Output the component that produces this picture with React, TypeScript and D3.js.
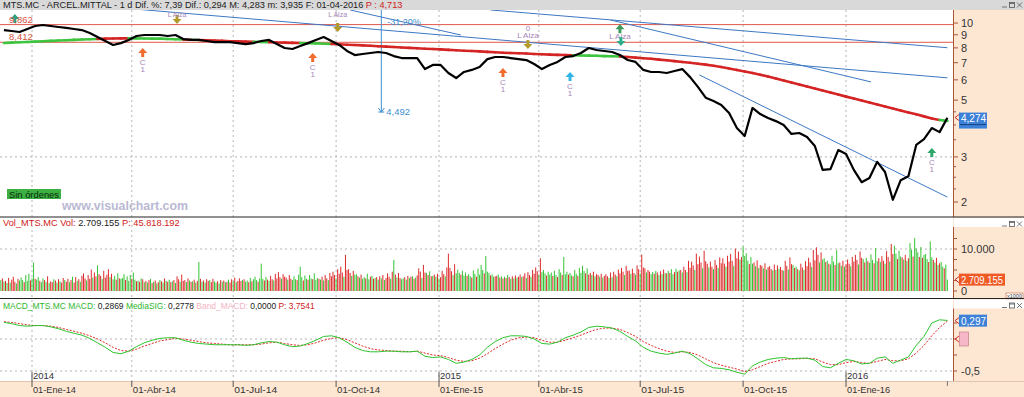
import React, { useLayoutEffect, useRef, useState } from "react";
import * as d3 from "d3";

// ---------- DATA ----------
const SESSION_START = "2013-12-02";
const SESSION_END = "2016-04-01";
const FIRST_FRIDAY = "2013-12-06";

// weekly closes (Fridays)
const weeklyClose = [
  9.39, 9.31, 9.23, 9.48, 9.74, 9.83, 9.74, 9.65, 9.57, 9.48,
  9.39, 9.14, 8.82, 8.51, 8.21, 8.35, 8.59, 8.90, 8.98, 8.98,
  8.98, 8.90, 8.98, 8.66, 8.59, 8.59, 8.51, 8.43, 8.43, 8.43,
  8.35, 8.28, 8.35, 8.51, 8.59, 8.28, 7.99, 7.92, 8.13, 8.35,
  8.59, 8.82, 8.51, 8.21, 7.78, 7.50, 7.57, 7.64, 7.71, 7.64,
  7.43, 7.30, 7.30, 7.30, 6.61, 6.86, 6.86, 6.38, 6.10, 6.44,
  6.56, 6.73, 7.23, 7.37, 7.37, 7.30, 7.23, 7.17, 6.92, 6.61,
  6.86, 7.05, 7.37, 7.43, 7.64, 7.99, 7.85, 7.78, 7.71, 7.50,
  7.17, 7.05, 6.56, 6.44, 6.44, 6.38, 6.50, 6.61, 6.15, 5.63,
  5.11, 4.96, 4.79, 4.45, 3.89, 3.62, 4.66, 4.41, 4.26, 4.14,
  4.00, 3.69, 3.72, 3.59, 3.31, 2.67, 2.69, 3.19, 3.08, 2.67,
  2.39, 2.48, 2.87, 2.62, 2.04, 2.43, 2.52, 3.34, 3.52, 3.89,
  3.75, 4.27,
];

// long moving average (weekly samples)
const weeklyMA = [
  8.36, 8.39, 8.41, 8.43, 8.46, 8.49, 8.52, 8.55, 8.57, 8.60, 8.63, 8.65,
  8.67, 8.69, 8.70, 8.71, 8.71, 8.71, 8.70, 8.69, 8.69, 8.67, 8.65, 8.63,
  8.61, 8.59, 8.56, 8.54, 8.52, 8.49, 8.48, 8.46, 8.45, 8.43, 8.41, 8.40, 8.39, 8.37, 8.36,
  8.34, 8.33, 8.30, 8.28, 8.26, 8.23, 8.21, 8.18, 8.15, 8.12, 8.09, 8.06, 8.03,
  8.00, 7.97, 7.94, 7.92, 7.89, 7.86, 7.83, 7.80, 7.78, 7.75, 7.72, 7.69, 7.66,
  7.64, 7.62, 7.60, 7.57, 7.55, 7.53, 7.51, 7.50, 7.49, 7.47, 7.46, 7.45, 7.43, 7.42, 7.40,
  7.37, 7.33, 7.29, 7.25, 7.20, 7.16, 7.10, 7.05, 7.00, 6.94,
  6.88, 6.81, 6.73, 6.64, 6.56, 6.47, 6.38, 6.28, 6.18, 6.07, 5.96, 5.86,
  5.75, 5.65, 5.55, 5.45, 5.35, 5.26, 5.16, 5.07, 4.98, 4.89, 4.81, 4.72, 4.64,
  4.55, 4.47, 4.40, 4.32, 4.24, 4.18, 4.15,
];

const macdValues = [
  0.26, 0.24, 0.21, 0.20, 0.21, 0.21, 0.19, 0.16, 0.12, 0.09,
  0.06, 0.01, -0.06, -0.13, -0.21, -0.23, -0.19, -0.12, -0.06, -0.02,
  0.01, 0.02, 0.02, -0.02, -0.05, -0.07, -0.08, -0.09, -0.09, -0.09,
  -0.09, -0.10, -0.09, -0.06, -0.04, -0.05, -0.09, -0.12, -0.11, -0.07,
  -0.02, 0.04, 0.05, 0.02, -0.05, -0.13, -0.18, -0.20, -0.20, -0.19,
  -0.19, -0.20, -0.20, -0.19, -0.27, -0.29, -0.28, -0.32, -0.38, -0.36,
  -0.32, -0.25, -0.13, -0.04, 0.02, 0.05, 0.05, 0.04, 0.00, -0.07,
  -0.08, -0.05, 0.02, 0.06, 0.11, 0.18, 0.20, 0.19, 0.17, 0.12,
  0.04, -0.03, -0.13, -0.19, -0.22, -0.24, -0.22, -0.19, -0.23, -0.31,
  -0.40, -0.45, -0.46, -0.48, -0.52, -0.55, -0.42, -0.36, -0.32, -0.30,
  -0.29, -0.31, -0.30, -0.30, -0.33, -0.43, -0.45, -0.38, -0.32, -0.34,
  -0.39, -0.38, -0.30, -0.28, -0.38, -0.33, -0.28, -0.10, 0.04, 0.25,
  0.30, 0.29,
];

const signalValues = [
  0.27, 0.26, 0.24, 0.22, 0.21, 0.21, 0.20, 0.18, 0.15, 0.12,
  0.09, 0.05, 0.00, -0.06, -0.13, -0.18, -0.19, -0.16, -0.11, -0.07,
  -0.03, -0.01, 0.01, 0.00, -0.02, -0.04, -0.06, -0.07, -0.08, -0.09,
  -0.09, -0.09, -0.09, -0.08, -0.06, -0.05, -0.07, -0.09, -0.10, -0.09,
  -0.06, -0.02, 0.01, 0.02, -0.01, -0.06, -0.11, -0.15, -0.17, -0.18,
  -0.19, -0.19, -0.20, -0.19, -0.22, -0.25, -0.26, -0.29, -0.33, -0.35,
  -0.34, -0.30, -0.23, -0.15, -0.08, -0.02, 0.02, 0.03, 0.02, -0.02,
  -0.05, -0.05, -0.02, 0.02, 0.06, 0.11, 0.15, 0.17, 0.17, 0.15,
  0.10, 0.04, -0.04, -0.10, -0.15, -0.19, -0.21, -0.20, -0.21, -0.25,
  -0.31, -0.37, -0.41, -0.44, -0.47, -0.51, -0.48, -0.43, -0.38, -0.35,
  -0.32, -0.31, -0.31, -0.30, -0.31, -0.36, -0.40, -0.40, -0.37, -0.35,
  -0.37, -0.38, -0.35, -0.32, -0.34, -0.34, -0.31, -0.22, -0.10, 0.05,
  0.18, 0.28,
];

// daily volume in millions, sign = session direction (+ up / - down)
const dailyVolume = [
  2.1,-1.8,2.6,-3.0,2.2, -2.4,1.9,-3.1,2.0,-2.7, -3.4,-2.2,1.8,-2.9,2.5, 3.2,2.6,-2.1,3.8,2.4,
  4.1,-2.5,3.0,6.8,-2.9, 2.7,3.3,-2.4,2.1,3.0, -2.6,2.2,-3.5,1.9,-2.3, -2.1,2.8,-2.5,2.0,-2.8,
  2.3,-2.0,-3.1,2.6,-2.2, -2.9,2.1,-2.6,3.4,-2.0, -3.3,2.4,-2.8,2.2,-3.6, -4.2,-3.0,2.5,-3.8,-2.9,
  -5.1,3.2,-4.4,-3.5,6.1, -4.0,-3.6,2.9,-4.8,-3.2, -3.9,-5.2,3.3,-4.1,2.8, 3.6,-2.7,4.2,-3.0,2.9,
  3.1,4.0,-2.6,3.5,2.4, 3.8,-2.9,4.4,2.7,-2.3, 2.5,-2.2,3.0,-2.8,2.1, -2.4,2.0,-2.6,2.9,-1.9,
  2.2,-2.5,1.8,-2.1,2.6, -2.3,2.0,-3.0,2.4,-2.2, 2.7,-2.1,2.3,-2.6,1.9, -3.5,-2.8,2.2,-3.9,-2.4,
  -2.6,2.1,-3.0,2.5,-2.2, 2.3,-2.7,2.0,-2.4,6.9, -2.9,2.2,-2.5,2.0,-2.8, -2.4,2.6,-2.1,-2.9,2.3,
  2.0,-2.3,1.8,-2.6,2.2, -2.5,2.1,-2.2,2.7,-2.0, -2.8,2.3,-3.2,2.1,-2.4, -3.0,-2.4,2.6,-2.8,2.2,
  2.5,-2.1,3.1,-2.3,2.8, 3.4,2.6,-2.2,3.0,6.5, 2.9,-2.5,3.3,-2.7,2.4, -3.6,-2.8,2.5,-4.1,-3.0,
  -4.5,-3.3,2.9,-4.0,-3.4, -3.2,2.7,-3.8,-2.9,2.6, 3.5,2.8,-2.6,3.9,5.8, 3.3,-2.5,3.7,2.9,-2.7,
  3.8,3.0,-2.8,4.2,2.6, 3.1,-2.9,2.7,-3.4,2.5, -3.8,-3.0,2.6,-4.3,-3.5, -4.6,-3.8,3.0,-5.2,-4.1,
  -5.8,-4.4,3.4,-8.6,-5.0, -5.2,-4.3,3.6,-4.8,3.9, 4.0,-3.5,3.2,-3.9,2.9, 3.3,-3.0,4.1,2.8,-3.4,
  3.6,-2.9,3.1,-3.3,2.7, -3.5,3.0,-3.8,2.6,-3.1, -4.2,-3.4,2.9,-4.6,7.4, -3.9,3.2,-4.3,-3.1,2.8,
  3.0,-3.3,2.7,-3.6,3.1, -3.4,3.5,-2.9,3.2,-3.7, -5.4,-4.6,3.1,-6.2,-4.4, 4.3,-3.8,4.7,-3.5,3.6,
  -3.9,3.4,-4.1,3.0,-3.3, -4.8,-4.0,3.5,-5.6,-8.9, -5.5,-4.7,3.8,-6.4,4.2, 5.1,4.3,-3.9,4.8,3.7,
  4.4,-3.6,4.0,3.5,-3.2, 4.9,4.1,-3.4,5.3,3.9, 6.2,5.0,-4.2,8.3,4.6, 4.3,-3.7,4.0,3.4,-3.5,
  -3.6,3.9,-3.2,3.5,-3.0, 3.4,-3.1,3.8,-3.3,2.9, -3.5,3.0,-3.7,3.2,-3.4, -3.9,3.3,-3.5,-4.2,3.1,
  -4.5,-3.8,3.4,-5.0,-4.1, -5.6,-4.7,3.9,-7.8,4.5, 5.0,4.2,-3.7,4.6,3.9, 4.4,-3.6,4.8,3.8,-3.3,
  5.2,4.4,-3.8,8.1,4.0, 4.6,-3.9,4.3,3.7,-3.5, 5.0,4.1,-3.6,5.5,4.3, 6.0,4.8,-4.2,5.4,-3.9,
  -4.3,3.8,-4.6,3.5,-4.0, -3.8,3.4,-4.1,3.2,-3.6, -4.0,-3.5,3.1,-4.4,3.3, -4.6,-3.9,3.5,-5.1,-4.2,
  -5.5,-4.6,3.8,-6.0,-4.8, -4.9,4.1,-5.3,-4.3,3.9, -6.1,-5.2,4.2,-8.7,-5.6, -5.4,4.4,-5.0,-4.6,4.0,
  4.5,-4.1,4.8,-4.4,3.8, -4.7,4.0,-5.1,4.3,-4.2, 4.8,-4.3,5.2,4.0,-4.5, 5.3,-4.6,4.9,-5.0,4.4,
  -5.8,-5.0,4.5,-7.2,-5.5, -7.0,-6.1,5.0,-8.9,-6.4, -8.2,-6.8,5.4,-9.6,-7.1, -6.5,5.6,-7.0,-5.8,5.2,
  -7.4,-6.2,5.5,-8.0,-6.6, -7.8,-6.5,5.8,-8.4,-7.0, -8.8,-7.2,6.0,-10.1,-7.8, -9.4,7.5,-8.1,10.6,8.3,
  9.0,7.2,-6.4,8.1,6.5, -6.8,5.9,-7.3,5.5,-6.2, -6.0,5.4,-6.6,5.1,-5.7, -5.9,-5.2,4.9,-6.3,5.0,
  -6.1,5.3,-5.7,-5.0,4.8, -7.2,-6.0,5.1,-8.0,-6.4, 6.2,-5.5,5.8,-5.2,4.9, -6.5,-5.6,5.0,-7.1,-5.9,
  -7.9,-6.8,5.7,-9.8,-7.3, -10.4,-8.6,6.8,-9.2,7.5, 7.8,-6.9,7.2,-6.5,6.3, 8.4,7.0,-6.2,9.7,6.6,
  -6.8,6.0,-7.2,5.8,-6.4, -7.5,-6.5,5.9,-8.1,-7.0, -8.6,-7.4,6.3,-9.4,-7.9, 7.6,-6.8,7.9,-7.1,6.7,
  8.7,7.4,-6.6,10.2,7.1, -7.8,6.9,-8.3,-7.2,6.5, -9.5,-8.1,7.0,-11.2,-8.8, 10.8,8.9,-7.6,9.6,8.2,
  -8.0,7.5,-8.6,7.2,-7.8, 11.4,9.8,-8.2,12.6,10.1, 9.2,-8.1,10.5,-7.9,8.6, 8.8,7.6,-6.9,11.8,8.0,
  -7.4,6.8,-7.9,6.2,-6.6, 6.9,5.8,-5.4,6.3,2.71,
];

const quarterDates = ["2014-01-01","2014-04-01","2014-07-01","2014-10-01","2015-01-01","2015-04-01","2015-07-01","2015-10-01","2016-01-01"];
const quarterLabels = ["01-Ene-14","01-Abr-14","01-Jul-14","01-Oct-14","01-Ene-15","01-Abr-15","01-Jul-15","01-Oct-15","01-Ene-16"];
const yearLabels = ["2014","","","","2015","","","","2016"];

const priceTicks = [2, 3, 5, 6, 7, 8, 9, 10];
const priceMinorTicks = [2.25, 2.5, 2.75, 3.5, 4, 4.5];
const priceGrid = [3];
const volumeTicks = [0, 2.5, 5, 7.5, 10, 12.5];
const macdTicks = [-0.5, -0.25, 0, 0.25];

const levelPrices = [9.862, 8.412];
const levelLabels = ["9,862", "8,412"];

// trend lines: [startDate, startPrice, endDate, endPrice]
const trendLines: [string, number, string, number][] = [
  ["2014-01-29", 11.98, "2016-04-01", 6.11],
  ["2015-02-17", 11.25, "2016-04-01", 8.01],
  ["2015-06-04", 10.28, "2016-01-25", 5.89],
  ["2014-10-14", 11.25, "2015-01-21", 8.98],
  ["2015-08-24", 6.27, "2016-04-01", 2.09],
];
const measureDate = "2014-11-11";
const measureTop = 11.3;
const measureLow = 4.492;

// signal markers: date, price at arrow tip
const buyMarks = [
  { date: "2014-04-10", price: 7.99, color: "#f26b2e" },
  { date: "2014-09-10", price: 7.64, color: "#f26b2e" },
  { date: "2015-02-27", price: 6.67, color: "#f26b2e" },
  { date: "2015-04-29", price: 6.44, color: "#2fb4e6" },
  { date: "2016-03-18", price: 3.25, color: "#2ea86a" },
];
const alzaMarks = [
  { date: "2014-05-12", price: 9.92 },
  { date: "2014-10-02", price: 9.23 },
  { date: "2015-03-23", price: 7.92 },
];
const alzaUpDate = "2015-06-12";

// ---------- LAYOUT ----------
const PR = 953;
const TOP0 = 10, TOP1 = 217, VOL1 = 298.5, MACD1 = 381;
const PEACH = "#fde7d3";
const AXIS = "#a8553a";
const FONT = "'Liberation Sans', Arial, sans-serif";

const parse = d3.timeParse("%Y-%m-%d");
const key = d3.timeFormat("%Y-%m-%d");

function FitText({ x, y, width, fontSize, fill, children }: { x: number; y: number; width: number; fontSize: number; fill: string; children: React.ReactNode }) {
  const ref = useRef<SVGTextElement>(null);
  const [s, setS] = useState(1);
  useLayoutEffect(() => {
    if (ref.current) {
      const w = ref.current.getComputedTextLength();
      if (w > 0) setS(width / w);
    }
  }, [width]);
  return (
    <g transform={`translate(${x},${y}) scale(${s},1)`}>
      <text ref={ref} x={0} y={0} fontSize={fontSize} fill={fill}>{children}</text>
    </g>
  );
}

function UpArrow({ cx, ty, color }: { cx: number; ty: number; color: string }) {
  const p = `M${cx},${ty} L${cx - 4.5},${ty + 5} L${cx - 1.5},${ty + 5} L${cx - 1.5},${ty + 9} L${cx + 1.5},${ty + 9} L${cx + 1.5},${ty + 5} L${cx + 4.5},${ty + 5} Z`;
  return <path d={p} fill={color} />;
}
function DownArrow({ cx, by, color }: { cx: number; by: number; color: string }) {
  const p = `M${cx},${by} L${cx - 4.5},${by - 5} L${cx - 1.5},${by - 5} L${cx - 1.5},${by - 9} L${cx + 1.5},${by - 9} L${cx + 1.5},${by - 5} L${cx + 4.5},${by - 5} Z`;
  return <path d={p} fill={color} />;
}
function Icons({ y }: { y: number }) {
  return (
    <g stroke="#555" strokeWidth={0.8} fill="none">
      <line x1={1002} x2={1007} y1={y + 6} y2={y + 6} />
      <rect x={1009.5} y={y + 1.5} width={5} height={5} />
      <line x1={1009.5} x2={1014.5} y1={y + 2.5} y2={y + 2.5} />
      <line x1={1017} x2={1022} y1={y + 1.5} y2={y + 6.5} />
      <line x1={1022} x2={1017} y1={y + 1.5} y2={y + 6.5} />
    </g>
  );
}

export default function App() {
  const days = d3
    .timeDay.range(parse(SESSION_START)!, d3.timeDay.offset(parse(SESSION_END)!, 1))
    .filter((d) => d.getDay() !== 0 && d.getDay() !== 6);
  const idx = new Map(days.map((d, i) => [key(d), i] as [string, number]));
  const sx = d3.scaleLinear().domain([0, days.length - 1]).range([-2.3, 947.4]);
  const dx = (s: string) => sx(idx.get(s) ?? 0);

  const fridays = d3.timeFriday.range(parse(FIRST_FRIDAY)!, d3.timeDay.offset(parse(SESSION_END)!, 1));
  const wx = fridays.map((d) => sx(idx.get(key(d)) ?? 0));

  const yP = d3.scaleLog().domain([2, 10]).range([202, 23.06]);
  const yV = d3.scaleLinear().domain([0, 10]).range([291, 249]);
  const yM = d3.scaleLinear().domain([-0.5, 0.5]).range([371, 307]);

  const n = Math.min(wx.length, weeklyClose.length);
  const pricePts: [number, number][] = d3.range(n).map((i) => [wx[i], yP(weeklyClose[i])]);
  const line = d3.line<[number, number]>().x((d) => d[0]).y((d) => d[1]);
  const macdPts: [number, number][] = d3.range(n).map((i) => [wx[i], yM(macdValues[i])]);
  const sigPts: [number, number][] = d3.range(n).map((i) => [wx[i], yM(signalValues[i])]);

  const maSegs = d3.range(1, n).map((i) => ({
    x1: wx[i - 1], y1: yP(weeklyMA[i - 1]), x2: wx[i], y2: yP(weeklyMA[i]),
    up: weeklyClose[i] >= weeklyMA[i],
  }));

  const qx = quarterDates.map((d) => dx(d));

  return (
    <svg width={1024} height={397} style={{ position: "absolute", left: 0, top: 0, display: "block", background: "#fff" }} fontFamily={FONT}>
      <defs>
        <clipPath id="topClip"><rect x={0} y={TOP0} width={PR} height={TOP1 - TOP0} /></clipPath>
        <clipPath id="volClip"><rect x={0} y={TOP1 + 1} width={PR} height={VOL1 - TOP1 - 1} /></clipPath>
        <clipPath id="macdClip"><rect x={0} y={VOL1 + 1} width={PR} height={MACD1 - VOL1 - 1} /></clipPath>
      </defs>

      {/* right axis backgrounds */}
      <rect x={PR} y={0} width={1024 - PR} height={397} fill={PEACH} />
      <rect x={0} y={MACD1} width={1024} height={397 - MACD1} fill={PEACH} />
      <line x1={0} x2={1024} y1={MACD1 + 0.5} y2={MACD1 + 0.5} stroke="#e2c4ac" />

      {/* dotted grid */}
      {qx.map((x, i) => (
        <line key={"vg" + i} x1={x} x2={x} y1={TOP0} y2={MACD1} stroke="#b4b4b4" strokeDasharray="2,3" />
      ))}
      {priceGrid.map((p) => (
        <line key={"pg" + p} x1={0} x2={PR} y1={yP(p)} y2={yP(p)} stroke="#b4b4b4" strokeDasharray="2,3" />
      ))}
      <line x1={0} x2={PR} y1={yV(10)} y2={yV(10)} stroke="#b4b4b4" strokeDasharray="2,3" />
      <line x1={0} x2={PR} y1={yM(0)} y2={yM(0)} stroke="#b4b4b4" strokeDasharray="2,3" />
      <line x1={0} x2={PR} y1={yM(-0.5)} y2={yM(-0.5)} stroke="#b4b4b4" strokeDasharray="2,3" />

      {/* ---------- TOP PANEL ---------- */}
      <g clipPath="url(#topClip)">
        {levelPrices.map((p, i) => (
          <line key={"lv" + i} x1={0} x2={PR} y1={yP(p)} y2={yP(p)} stroke="#e0584a" strokeWidth={1} />
        ))}
        {trendLines.map((t, i) => (
          <line key={"tl" + i} x1={dx(t[0])} y1={yP(t[1])} x2={dx(t[2])} y2={yP(t[3])} stroke="#3d78c4" strokeWidth={1} />
        ))}
        <line x1={dx(measureDate)} x2={dx(measureDate)} y1={yP(measureTop)} y2={yP(measureLow)} stroke="#3d8fd0" strokeWidth={1} />
        <line x1={dx(measureDate) - 3} x2={dx(measureDate) + 3} y1={yP(measureLow)} y2={yP(measureLow)} stroke="#3d8fd0" />
        <path d={`M${dx(measureDate) - 3},${yP(measureLow) - 4} L${dx(measureDate)},${yP(measureLow)} L${dx(measureDate) + 3},${yP(measureLow) - 4}`} fill="none" stroke="#3d8fd0" />
        <text x={dx(measureDate) + 5} y={yP(measureLow) + 3} fontSize={9.5} fill="#3d8fd0">4,492</text>
        <text x={dx(measureDate) + 6} y={25} fontSize={9} fill="#3d8fd0">-31,20%</text>

        {maSegs.map((s, i) => (
          <line key={"ma" + i} x1={s.x1} y1={s.y1} x2={s.x2} y2={s.y2} stroke={s.up ? "#3fc43f" : "#d42424"} strokeWidth={2.6} strokeLinecap="round" />
        ))}
        <path d={line(pricePts) || ""} fill="none" stroke="#000" strokeWidth={2.2} strokeLinejoin="round" />

        {buyMarks.map((m, i) => {
          const cx = dx(m.date), ty = yP(m.price);
          return (
            <g key={"bm" + i}>
              <UpArrow cx={cx} ty={ty} color={m.color} />
              <text x={cx} y={ty + 17} fontSize={8} fill="#a585b8" textAnchor="middle">C</text>
              <text x={cx} y={ty + 24} fontSize={8} fill="#a585b8" textAnchor="middle">1</text>
            </g>
          );
        })}
        {alzaMarks.map((m, i) => {
          const cx = dx(m.date), by = yP(m.price);
          const high = by - 18 < TOP0 + 7;
          return (
            <g key={"am" + i}>
              <DownArrow cx={cx} by={by} color="#b39a2c" />
              <text x={cx} y={high ? TOP0 + 6.5 : by - 11} fontSize={high ? 7 : 8} fill="#a585b8" textAnchor="middle">L Alza</text>
              {!high && (
                <text x={cx} y={by - 18} fontSize={8} fill="#a585b8" textAnchor="middle">0</text>
              )}
            </g>
          );
        })}
        <UpArrow cx={dx(alzaUpDate)} ty={yP(9.9)} color="#3e9a5c" />
        <text x={dx(alzaUpDate)} y={yP(9.9) + 15} fontSize={8} fill="#a585b8" textAnchor="middle">L Alza</text>
        <DownArrow cx={dx(alzaUpDate) + 1} by={yP(8.13)} color="#2fae8c" />
        <UpArrow cx={dx("2013-12-17")} ty={yP(10.85)} color="#2fa082" />

        {levelLabels.map((l, i) => (
          <text key={"ll" + i} x={9} y={yP(levelPrices[i]) - 2} fontSize={9.5} fill="#d8553f">{l}</text>
        ))}

        <rect x={7} y={189} width={54} height={10} fill="#3cb043" />
        <text x={9} y={197.5} fontSize={9} fill="#0a2a0a" textLength={50} lengthAdjust="spacingAndGlyphs">Sin órdenes</text>
        <text x={62} y={210} fontSize={13.5} fontWeight="bold" fill="#b9b9d3" textLength={126} lengthAdjust="spacingAndGlyphs">www.visualchart.com</text>
      </g>

      {/* top header */}
      <rect x={0} y={0} width={1024} height={10} fill="#d9d9d9" />
      <FitText x={3} y={8.3} width={400} fontSize={9} fill="#222">
        MTS.MC - ARCEL.MITTAL -  1 d Dif. %: 7,39 Dif.: 0,294 M: 4,283 m: 3,935 F: 01-04-2016 <tspan fill="#d02020">P : 4,713</tspan>
      </FitText>
      <Icons y={1} />

      {/* price axis */}
      <line x1={PR + 0.5} x2={PR + 0.5} y1={TOP0} y2={TOP1} stroke={AXIS} />
      {priceTicks.map((t) => (
        <g key={"pt" + t}>
          <line x1={PR} x2={PR + 5} y1={yP(t)} y2={yP(t)} stroke={AXIS} />
          <text x={961} y={yP(t) + 4} fontSize={11} fill="#333">{t}</text>
        </g>
      ))}
      {priceMinorTicks.map((t) => (
        <line key={"pm" + t} x1={PR} x2={PR + 3} y1={yP(t)} y2={yP(t)} stroke={AXIS} />
      ))}
      <path d={`M${PR + 6},${yP(4.274) - 3} L${PR + 2},${yP(4.274)} L${PR + 6},${yP(4.274) + 3}`} fill="none" stroke="#d03030" />
      <rect x={959} y={yP(4.274) - 5} width={28} height={16} fill="#3d80d8" />
      <text x={961} y={yP(4.274) + 4} fontSize={10} fill="#fff">4,274</text>
      <line x1={960} x2={986} y1={yP(4.274) + 7} y2={yP(4.274) + 7} stroke="#1a3f80" />

      <line x1={0} x2={1024} y1={TOP1} y2={TOP1} stroke="#222" />

      {/* ---------- VOLUME PANEL ---------- */}
      <g clipPath="url(#volClip)">
        {dailyVolume.slice(0, days.length).map((v, i) => (
          <line key={"v" + i} x1={sx(i)} x2={sx(i)} y1={yV(0)} y2={yV(Math.abs(v))} stroke={v >= 0 ? "#35c435" : "#dd2a2a"} strokeWidth={1} />
        ))}
      </g>
      <rect x={PR + 1} y={TOP1 + 1} width={1024 - PR} height={9} fill="#fff" />
      <Icons y={TOP1 + 3} />
      <FitText x={3} y={226} width={177} fontSize={9} fill="#d02020">
        Vol_MTS.MC Vol: <tspan fill="#222">2.709.155</tspan> P: 45.818.192
      </FitText>
      <line x1={PR + 0.5} x2={PR + 0.5} y1={TOP1 + 10} y2={VOL1} stroke={AXIS} />
      {volumeTicks.map((t) => (
        <line key={"vt" + t} x1={PR} x2={PR + 4} y1={yV(t)} y2={yV(t)} stroke={AXIS} />
      ))}
      <text x={961} y={yV(10) + 4} fontSize={11} fill="#333">10.000</text>
      <text x={961} y={yV(0) + 4} fontSize={11} fill="#333">0</text>
      <path d={`M${PR + 6},${yV(2.709) - 3} L${PR + 2},${yV(2.709)} L${PR + 6},${yV(2.709) + 3}`} fill="none" stroke="#d03030" />
      <rect x={959} y={yV(2.709) - 6} width={46} height={12} fill="#ef5a24" />
      <text x={961} y={yV(2.709) + 4} fontSize={10} fill="#fff" textLength={42} lengthAdjust="spacingAndGlyphs">2.709.155</text>
      <rect x={1006} y={293} width={17} height={6} fill="#fff" stroke="#c86040" strokeWidth={0.6} />
      <text x={1007} y={298.3} fontSize={6} fill="#333" textLength={15} lengthAdjust="spacingAndGlyphs">x1000</text>

      <line x1={0} x2={1024} y1={VOL1} y2={VOL1} stroke="#222" />

      {/* ---------- MACD PANEL ---------- */}
      <g clipPath="url(#macdClip)">
        <path d={line(sigPts) || ""} fill="none" stroke="#e02828" strokeWidth={1} strokeDasharray="2,1.5" />
        <path d={line(macdPts) || ""} fill="none" stroke="#2ec42e" strokeWidth={1} />
      </g>
      <rect x={PR + 1} y={VOL1 + 1} width={1024 - PR} height={9} fill="#fff" />
      <Icons y={VOL1 + 3} />
      <FitText x={3} y={308.5} width={312} fontSize={9} fill="#2fb82f">
        MACD_MTS.MC MACD: <tspan fill="#222">0,2869</tspan> MediaSIG: <tspan fill="#222">0,2778</tspan> <tspan fill="#f3b4c4">Band_MACD:</tspan> <tspan fill="#222">0,0000</tspan> <tspan fill="#d02020">P: 3,7541</tspan>
      </FitText>
      <line x1={PR + 0.5} x2={PR + 0.5} y1={VOL1 + 10} y2={MACD1} stroke={AXIS} />
      {macdTicks.map((t) => (
        <line key={"mt" + t} x1={PR} x2={PR + 4} y1={yM(t)} y2={yM(t)} stroke={AXIS} />
      ))}
      <text x={961} y={yM(-0.5) + 4} fontSize={11} fill="#333">-0,5</text>
      <path d={`M${PR + 6},${yM(0.2869) - 3} L${PR + 2},${yM(0.2869)} L${PR + 6},${yM(0.2869) + 3}`} fill="none" stroke="#d03030" />
      <rect x={959} y={yM(0.2869) - 6} width={28} height={12} fill="#3d80d8" />
      <text x={961} y={yM(0.2869) + 4} fontSize={10} fill="#fff">0,297</text>
      <path d={`M${PR + 6},${yM(0) - 3} L${PR + 2},${yM(0)} L${PR + 6},${yM(0) + 3}`} fill="none" stroke="#d03030" />
      <rect x={959.5} y={yM(0) - 7} width={9} height={14} fill="#f6b8c8" stroke="#c07080" strokeWidth={0.6} />

      {/* ---------- TIME AXIS ---------- */}
      {qx.map((x, i) => (
        <g key={"qt" + i}>
          <line x1={x} x2={x} y1={yearLabels[i] ? MACD1 - 9 : MACD1} y2={MACD1 + 6} stroke="#555" />
          {yearLabels[i] && (
            <text x={x + 1} y={MACD1 - 2.5} fontSize={9.5} fill="#333">{yearLabels[i]}</text>
          )}
          <text x={x + 1} y={MACD1 + 12} fontSize={9.5} fill="#333" textLength={43} lengthAdjust="spacingAndGlyphs">{quarterLabels[i]}</text>
        </g>
      ))}
      <line x1={sx(days.length - 1)} x2={sx(days.length - 1)} y1={MACD1} y2={MACD1 + 5} stroke="#777" />
    </svg>
  );
}
